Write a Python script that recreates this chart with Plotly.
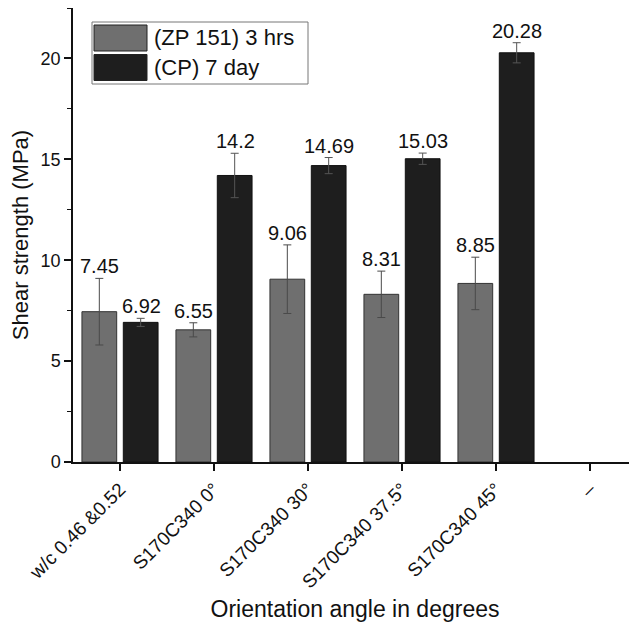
import plotly.graph_objects as go

categories = ["w/c 0.46 &0.52", "S170C340 0°", "S170C340 30°", "S170C340 37.5°", "S170C340 45°", "–"]
bar_categories = categories[:5]
zp_values = [7.45, 6.55, 9.06, 8.31, 8.85]
zp_errors = [1.65, 0.35, 1.7, 1.15, 1.3]
cp_values = [6.92, 14.2, 14.69, 15.03, 20.28]
cp_errors = [0.2, 1.1, 0.4, 0.28, 0.5]
series_names = ["(ZP 151) 3 hrs", "(CP) 7 day"]
y_ticks = [0, 5, 10, 15, 20]

FONT = "Liberation Sans, Arial, sans-serif"
GRAY = "#6f6f6f"
DARK = "#1e1e1e"

# page has an 8px body margin; plot area spans page x 73..637, y 8..462
PH = 454.0
PW = 564.0

fig = go.Figure()
fig.add_trace(go.Bar(
    x=bar_categories, y=zp_values, name=series_names[0],
    marker=dict(color=GRAY, line=dict(color="#333333", width=1)),
    error_y=dict(type="data", array=zp_errors, color="#4a4a4a", thickness=1, width=4),
))
fig.add_trace(go.Bar(
    x=bar_categories, y=cp_values, name=series_names[1],
    marker=dict(color=DARK, line=dict(color="#111111", width=1)),
    error_y=dict(type="data", array=cp_errors, color="#555555", thickness=1, width=4),
))

for vals, errs, shift in ((zp_values, zp_errors, -21), (cp_values, cp_errors, 21)):
    for c, v, e in zip(bar_categories, vals, errs):
        fig.add_annotation(x=c, y=v + e, text=f"{v:g}", showarrow=False,
                           xshift=shift, yshift=-1, yanchor="bottom",
                           font=dict(family=FONT, size=20, color="#111111"))

# custom legend
fig.add_shape(type="rect", xref="paper", yref="paper",
              x0=(92 - 73) / PW, x1=(308 - 73) / PW,
              y0=(462 - 84) / PH, y1=(462 - 22) / PH,
              line=dict(color="#777777", width=1), fillcolor="white")
for i, (name, col) in enumerate(zip(series_names, [GRAY, DARK])):
    yc = (462 - (38 + i * 29.5)) / PH
    fig.add_shape(type="rect", xref="paper", yref="paper",
                  x0=(94 - 73) / PW, x1=(147 - 73) / PW,
                  y0=yc - 13 / PH, y1=yc + 13 / PH,
                  line=dict(color="#222222", width=1), fillcolor=col)
    fig.add_annotation(xref="paper", yref="paper", x=(152 - 73) / PW, y=yc, text=name,
                       showarrow=False, xanchor="left", yanchor="middle",
                       font=dict(family=FONT, size=22, color="#111111"))

fig.update_layout(
    width=629, height=620,
    margin=dict(l=65, r=0, t=0, b=166),
    paper_bgcolor="white", plot_bgcolor="white",
    barmode="group", bargap=0.12, bargroupgap=0.16,
    showlegend=False,
    font=dict(family=FONT, color="#111111"),
)
fig.update_xaxes(
    type="category", categoryorder="array", categoryarray=categories,
    range=[-0.5, 5.5], tickangle=-45, tickfont=dict(size=19),
    showline=True, linecolor="#111111", linewidth=1.5,
    ticks="outside", ticklen=7, tickcolor="#111111", tickwidth=1.5,
    minor=dict(ticks="outside", ticklen=5, tickcolor="#111111", tickwidth=1.2, showgrid=False),
    showgrid=False, zeroline=False,
    title=dict(text="Orientation angle in degrees", font=dict(size=23), standoff=10),
)
fig.update_yaxes(
    range=[0, 22.5], tickvals=y_ticks, tickfont=dict(size=18),
    showline=True, linecolor="#111111", linewidth=1.5,
    ticks="outside", ticklen=7, tickcolor="#111111", tickwidth=1.5,
    minor=dict(dtick=2.5, ticks="outside", ticklen=4, tickcolor="#111111", tickwidth=1.2),
    showgrid=False, zeroline=False,
    title=dict(text="Shear strength (MPa)", font=dict(size=22), standoff=6),
)
fig.write_html("out.html")
